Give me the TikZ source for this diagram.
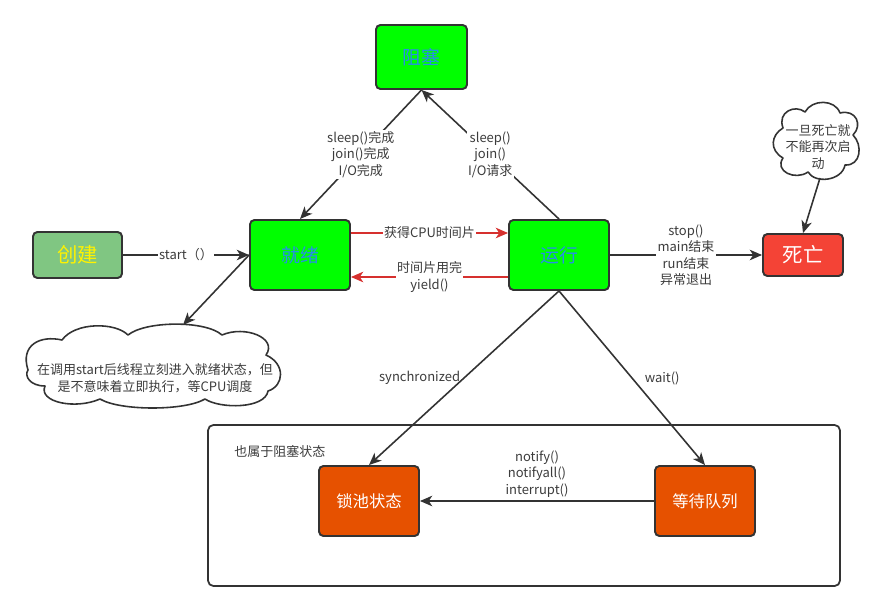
\documentclass[tikz,border=0pt]{standalone}
\usepackage{fontspec}
\setmainfont{Noto Sans CJK SC}
\usetikzlibrary{arrows.meta}
\definecolor{edgec}{RGB}{51,51,51}
\definecolor{labelc}{RGB}{60,60,60}
\definecolor{limeg}{RGB}{0,255,0}
\definecolor{stateblue}{RGB}{40,140,235}
\definecolor{createg}{RGB}{128,198,130}
\definecolor{deadred}{RGB}{244,67,54}
\definecolor{orangec}{RGB}{230,81,0}
\definecolor{arrowred}{RGB}{214,48,46}
\begin{document}
\begin{tikzpicture}[x=0.02cm,y=-0.02cm,
  statebox/.style={draw=edgec, line width=1.1pt, rounded corners=2.5pt, inner sep=0pt, align=center},
  greenbox/.style={statebox, fill=limeg, text=stateblue, font=\fontsize{10.7}{12}\selectfont, minimum width=2cm, minimum height=1.4cm},
  orangebox/.style={statebox, fill=orangec, text=white, font=\fontsize{9.3}{11}\selectfont, minimum width=2cm, minimum height=1.4cm},
  lbl/.style={font=\fontsize{7.4}{9.4}\selectfont, text=labelc, align=center, fill=white, inner sep=0.8pt},
  conn/.style={draw=edgec, line width=0.9pt, -{Stealth[length=7pt,width=6pt,inset=2pt]}},
  redconn/.style={draw=arrowred, line width=0.9pt, -{Stealth[length=7pt,width=6pt,inset=2pt]}},
  cloudline/.style={draw=edgec, line width=0.9pt, fill=white, line join=round}
]
\useasboundingbox (0,0) rectangle (888,611);

% outer group box
\node[draw=edgec, line width=1pt, rounded corners=3pt, minimum width=12.64cm, minimum height=3.22cm, inner sep=0pt] (group) at (524,505.5) {};
\node[font=\fontsize{7.4}{9}\selectfont, text=labelc, anchor=west, inner sep=0pt] (grouplbl) at (234,452) {也属于阻塞状态};

% states
\node[greenbox, minimum width=1.82cm, minimum height=1.28cm] (block) at (421.5,57) {阻塞};
\node[statebox, fill=createg, text=yellow, font=\fontsize{11.6}{13}\selectfont, minimum width=1.78cm, minimum height=0.92cm] (create) at (77.5,255) {创建};
\node[greenbox] (ready) at (300,255) {就绪};
\node[greenbox] (run) at (559,255) {运行};
\node[statebox, fill=deadred, text=white, font=\fontsize{11.6}{13}\selectfont, minimum width=1.6cm, minimum height=0.84cm] (dead) at (803,255) {死亡};
\node[orangebox] (lock) at (369,501) {锁池状态};
\node[orangebox] (wait) at (705,501) {等待队列};

% left cloud
\path[cloudline] (28,370) .. controls (20,345) and (40,335) .. (62,340)
  .. controls (75,322) and (115,322) .. (128,335)
  .. controls (145,321) and (205,320) .. (222,335)
  .. controls (245,325) and (278,338) .. (266,355)
  .. controls (286,364) and (284,386) .. (268,391)
  .. controls (265,409) and (220,409) .. (205,399)
  .. controls (185,411) and (120,411) .. (100,399)
  .. controls (75,410) and (38,402) .. (45,386)
  .. controls (30,386) and (24,376) .. (28,370) -- cycle;
\node[lbl, fill=none] (cloudLtxt) at (155,378) {在调用start后线程立刻进入就绪状态，但\\是不意味着立即执行，等CPU调度};
\coordinate (cloudLtip) at (183,325);

% right cloud
\path[cloudline] (783,128) .. controls (777,112) and (795,104) .. (805,112)
  .. controls (812,99) and (835,99) .. (840,113)
  .. controls (856,109) and (863,125) .. (853,135)
  .. controls (863,145) and (861,166) .. (845,165)
  .. controls (842,181) and (815,184) .. (808,172)
  .. controls (795,181) and (774,171) .. (783,158)
  .. controls (769,150) and (771,135) .. (783,128) -- cycle;
\node[lbl, fill=none] (cloudRtxt) at (818,147) {一旦死亡就\\不能再次启\\动};
\coordinate (cloudRbottom) at (820,178);

% connectors
\draw[conn] (create) -- (ready) node[lbl, midway] {start（）};
\draw[conn] (block.south) -- (ready.north) node[lbl, midway] {sleep()完成\\join()完成\\I/O完成};
\draw[conn] (run.north) -- (block.south) node[lbl, midway] {sleep()\\join()\\I/O请求};
\draw[redconn] ([yshift=0.44cm]ready.east) -- ([yshift=0.44cm]run.west) node[lbl, midway] {获得CPU时间片};
\draw[redconn] ([yshift=-0.44cm]run.west) -- ([yshift=-0.44cm]ready.east) node[lbl, midway] {时间片用完\\yield()};
\draw[conn] (run.east) -- (dead.west) node[lbl, midway] {stop()\\main结束\\run结束\\异常退出};
\draw[conn] (cloudRbottom) -- (dead.north);
\draw[conn] (ready.west) -- (cloudLtip);
\draw[conn] (run.south) -- (lock.north) node[lbl, fill=none, midway, left=1pt] {synchronized};
\draw[conn] (run.south) -- (wait.north) node[lbl, fill=none, midway, right=6pt] {wait()};
\draw[conn] (wait.west) -- (lock.east) node[lbl, fill=none, midway, above=1pt] {notify()\\notifyall()\\interrupt()};
\end{tikzpicture}
\end{document}
